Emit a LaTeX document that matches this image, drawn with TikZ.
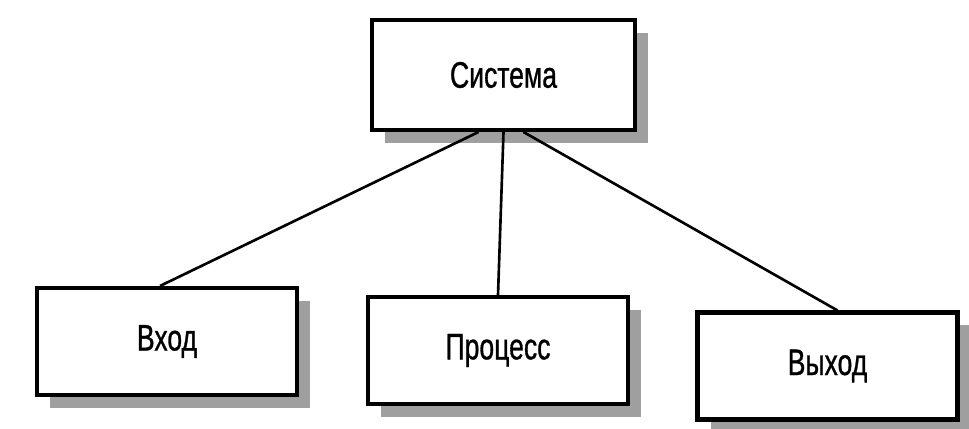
\documentclass[tikz,border=0pt]{standalone}
\usepackage{fontspec}
\setmainfont{Liberation Sans}[FakeStretch=0.72, FakeBold=0.8]
\usetikzlibrary{shadows}

\begin{document}
\begin{tikzpicture}
		\tikzset{
			block/.style = {draw, line width=2.3pt, fill=white, minimum width=5.2cm, minimum height=2.14cm,
				font=\fontsize{21}{25}\selectfont,
				drop shadow={shadow xshift=0.26cm, shadow yshift=-0.26cm, fill=gray!75, opacity=1}},
			link/.style = {line width=1.5pt}
		}
		\useasboundingbox (0, 0) rectangle (19.38, 8.58);
		
		\node[block, minimum width=5.26cm, minimum height=2.2cm] (sys) at (10.07, 7.08) {Система};
		\node[block] (in) at (3.34, 1.75) {Вход};
		\node[block] (proc) at (9.96, 1.57) {Процесс};
		\node[block] (out) at (16.55, 1.26) {Выход};
		
		\draw[link] ([xshift=-0.5cm]sys.south) -- ([xshift=-0.14cm]in.north);
		\draw[link] (sys.south) -- (proc.north);
		\draw[link] ([xshift=0.4cm]sys.south) -- ([xshift=0.2cm]out.north);
	\end{tikzpicture}
\end{document}
